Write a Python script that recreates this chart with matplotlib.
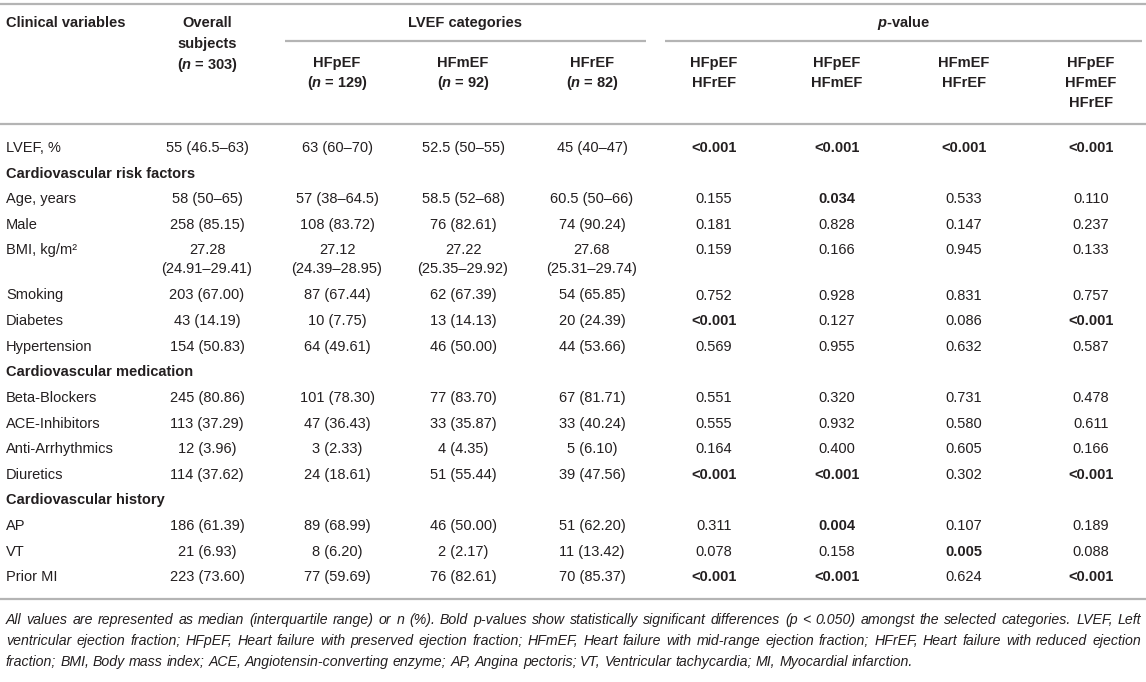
import matplotlib
matplotlib.use("Agg")
import matplotlib.pyplot as plt

plt.rcParams['font.family'] = ['Liberation Sans', 'DejaVu Sans']
plt.rcParams['mathtext.fontset'] = 'custom'
plt.rcParams['mathtext.rm'] = 'Liberation Sans:bold'
plt.rcParams['mathtext.it'] = 'Liberation Sans:italic:bold'
plt.rcParams['mathtext.bf'] = 'Liberation Sans:bold'

# ---------------- data ----------------
col_headers = ["Clinical variables", "Overall\nsubjects\n($n$ = 303)"]
group_lvef = "LVEF categories"
group_p = "$p$-value"
lvef_headers = ["HFpEF\n($n$ = 129)", "HFmEF\n($n$ = 92)", "HFrEF\n($n$ = 82)"]
p_headers = ["HFpEF\nHFrEF", "HFpEF\nHFmEF", "HFmEF\nHFrEF", "HFpEF\nHFmEF\nHFrEF"]

sections = {1: "Cardiovascular risk factors", 7: "Cardiovascular medication",
            11: "Cardiovascular history"}

variables = ["LVEF, %", "Age, years", "Male", "BMI, kg/m²", "Smoking", "Diabetes",
             "Hypertension", "Beta-Blockers", "ACE-Inhibitors", "Anti-Arrhythmics",
             "Diuretics", "AP", "VT", "Prior MI"]
overall = ["55 (46.5–63)", "58 (50–65)", "258 (85.15)", "27.28\n(24.91–29.41)",
           "203 (67.00)", "43 (14.19)", "154 (50.83)", "245 (80.86)", "113 (37.29)",
           "12 (3.96)", "114 (37.62)", "186 (61.39)", "21 (6.93)", "223 (73.60)"]
hfpef = ["63 (60–70)", "57 (38–64.5)", "108 (83.72)", "27.12\n(24.39–28.95)",
         "87 (67.44)", "10 (7.75)", "64 (49.61)", "101 (78.30)", "47 (36.43)",
         "3 (2.33)", "24 (18.61)", "89 (68.99)", "8 (6.20)", "77 (59.69)"]
hfmef = ["52.5 (50–55)", "58.5 (52–68)", "76 (82.61)", "27.22\n(25.35–29.92)",
         "62 (67.39)", "13 (14.13)", "46 (50.00)", "77 (83.70)", "33 (35.87)",
         "4 (4.35)", "51 (55.44)", "46 (50.00)", "2 (2.17)", "76 (82.61)"]
hfref = ["45 (40–47)", "60.5 (50–66)", "74 (90.24)", "27.68\n(25.31–29.74)",
         "54 (65.85)", "20 (24.39)", "44 (53.66)", "67 (81.71)", "33 (40.24)",
         "5 (6.10)", "39 (47.56)", "51 (62.20)", "11 (13.42)", "70 (85.37)"]
p_pef_ref = ["<0.001", "0.155", "0.181", "0.159", "0.752", "<0.001", "0.569",
             "0.551", "0.555", "0.164", "<0.001", "0.311", "0.078", "<0.001"]
p_pef_mef = ["<0.001", "0.034", "0.828", "0.166", "0.928", "0.127", "0.955",
             "0.320", "0.932", "0.400", "<0.001", "0.004", "0.158", "<0.001"]
p_mef_ref = ["<0.001", "0.533", "0.147", "0.945", "0.831", "0.086", "0.632",
             "0.731", "0.580", "0.605", "0.302", "0.107", "0.005", "0.624"]
p_all = ["<0.001", "0.110", "0.237", "0.133", "0.757", "<0.001", "0.587",
         "0.478", "0.611", "0.166", "<0.001", "0.189", "0.088", "<0.001"]

footnote_lines = [
    "All values are represented as median (interquartile range) or n (%). Bold p-values show "
    "statistically significant differences (p < 0.050) amongst the selected categories. LVEF, Left",
    "ventricular ejection fraction; HFpEF, Heart failure with preserved ejection fraction; HFmEF, "
    "Heart failure with mid-range ejection fraction; HFrEF, Heart failure with reduced ejection",
    "fraction; BMI, Body mass index; ACE, Angiotensin-converting enzyme; AP, Angina pectoris; "
    "VT, Ventricular tachycardia; MI, Myocardial infarction.",
]

# ---------------- layout / style ----------------
W, H = 1146, 682
TXT = "#231f20"
RULE = "#b4b4b4"
FS = 10.5
x_var = 6
x_cols = [207, 337, 463, 592, 714, 837, 964, 1091]
line_gap = 21
base_off = 5

fig = plt.figure(figsize=(W / 100, H / 100), dpi=100)
ax = fig.add_axes([0, 0, 1, 1])
ax.set_xlim(0, W)
ax.set_ylim(H, 0)
ax.axis('off')


def put(x, y, s, ha='center', bold=False, italic=False, fs=FS, gap=line_gap):
    for i, ln in enumerate(s.split("\n")):
        ax.text(x, y + i * gap + base_off, ln, ha=ha, va='baseline', fontsize=fs,
                color=TXT, fontweight='bold' if bold else 'normal',
                fontstyle='italic' if italic else 'normal')


def rule(x0, x1, y):
    ax.plot([x0, x1], [y, y], color=RULE, lw=1.6, solid_capstyle='butt')


# header
rule(0, W, 4)
put(x_var, 22, col_headers[0], ha='left', bold=True)
put(x_cols[0], 22, col_headers[1], bold=True)
put((285 + 646) / 2, 22, group_lvef, bold=True)
put((665 + 1142) / 2, 22, group_p, bold=True)
rule(285, 646, 41)
rule(665, 1142, 41)
for x, s in zip(x_cols[1:4], lvef_headers):
    put(x, 62, s, bold=True, gap=20.5)
for x, s in zip(x_cols[4:], p_headers):
    put(x, 62, s, bold=True, gap=20)
rule(0, W, 124)

# body
value_cols = [overall, hfpef, hfmef, hfref]
p_cols = [p_pef_ref, p_pef_mef, p_mef_ref, p_all]
step = 25.6
y = 147
for i, var in enumerate(variables):
    if i in sections:
        put(x_var, y, sections[i], ha='left', bold=True)
        y += step
    put(x_var, y, var, ha='left')
    nlines = 1
    for x, col in zip(x_cols[:4], value_cols):
        put(x, y, col[i], gap=19)
        nlines = max(nlines, col[i].count("\n") + 1)
    for x, col in zip(x_cols[4:], p_cols):
        v = col[i]
        put(x, y, v, bold=float(v.lstrip("<")) < 0.050)
    y += step + (nlines - 1) * 19.5

rule(0, W, 599)

# footnote (justified)
renderer = fig.canvas.get_renderer()
fx0, fx1 = 6, 1141
fy = [620, 641, 662]


def text_width(w, fs):
    t = ax.text(0, 0, w, fontsize=fs, fontstyle='italic')
    bb = t.get_window_extent(renderer)
    t.remove()
    return bb.width


fs0 = 10.0
natural = max(text_width(l, fs0) for l in footnote_lines[:2])
fn_fs = fs0 * (fx1 - fx0) / natural * 0.985

space_w = text_width("a a", fn_fs) - text_width("aa", fn_fs)
for li, line in enumerate(footnote_lines):
    words = line.split(" ")
    widths = [text_width(w, fn_fs) for w in words]
    if li < len(footnote_lines) - 1:
        gap = (fx1 - fx0 - sum(widths)) / (len(words) - 1)
    else:
        gap = space_w
    x = fx0
    for w, wd in zip(words, widths):
        ax.text(x, fy[li] + 4, w, fontsize=fn_fs, fontstyle='italic', color=TXT,
                ha='left', va='baseline')
        x += wd + gap

fig.savefig("out.png", dpi=100)
